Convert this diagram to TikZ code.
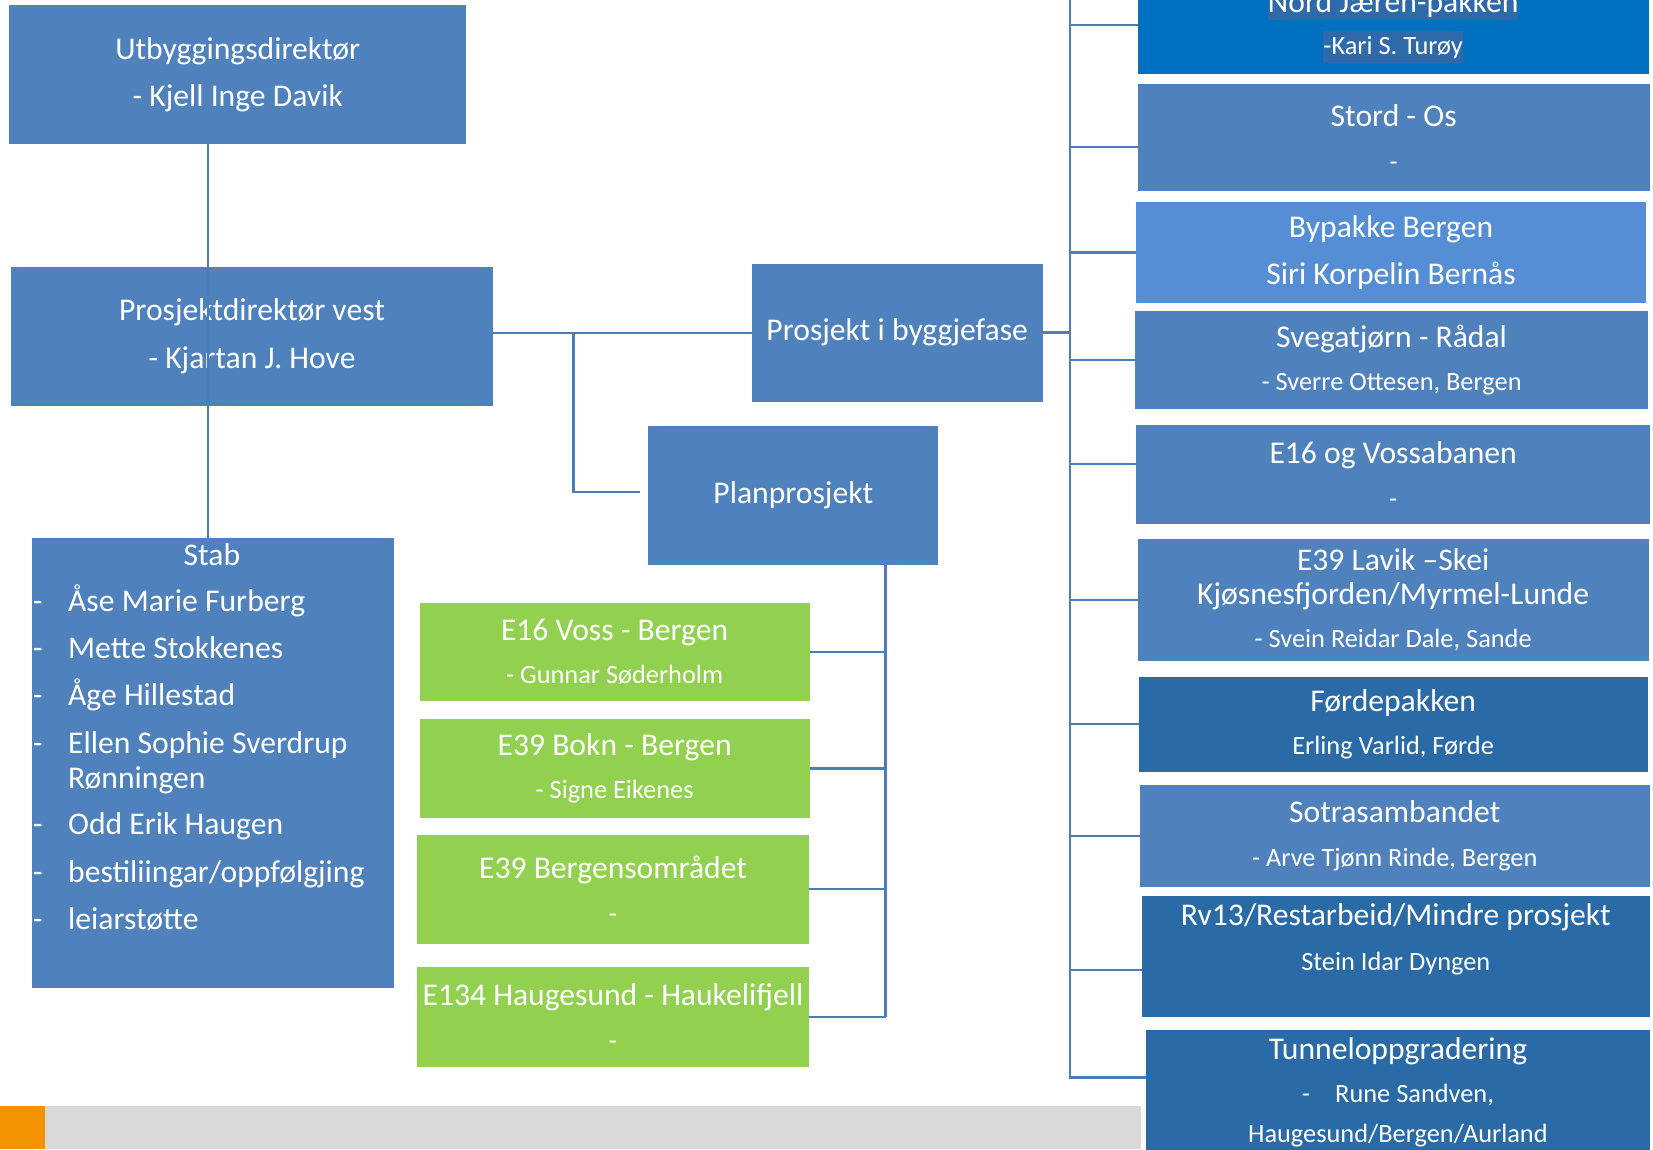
\documentclass[tikz,border=0pt]{standalone}
\usepackage{fontspec}
\setmainfont{Carlito}
\definecolor{svvblaa}{HTML}{4F81BD}
\definecolor{lysblaa}{HTML}{558ED5}
\definecolor{morkblaa}{HTML}{2A6AA6}
\definecolor{klarblaa}{HTML}{0070C0}
\definecolor{merke}{HTML}{2E6AAA}
\definecolor{gronn}{HTML}{92D050}
\definecolor{graa}{HTML}{D9D9D9}
\definecolor{oransje}{HTML}{F29400}
\definecolor{strek}{HTML}{4A7EBB}
\newcommand{\undertekst}{\fontsize{25}{30}\selectfont}
\setlength{\fboxsep}{0pt}

\begin{document}
\begin{tikzpicture}[x=1pt,y=-1pt,
  boks/.style={fill=svvblaa, text=white, align=center, inner sep=0pt, outer sep=0pt,
    font=\fontsize{30}{45}\selectfont},
  liste/.style={text=white, anchor=base west, inner sep=0pt, font=\fontsize{30}{36}\selectfont},
  linje/.style={draw=strek, line width=2.2pt}]
  \useasboundingbox (0,0) rectangle (1568,1090);
  \clip (0,0) rectangle (1568,1090);

  % bunnlinje
  \fill[graa] (43,1049) rectangle (1082,1090);
  \fill[oransje] (0,1049) rectangle (43,1090);

  % leiing
  \node[boks, minimum width=433pt, minimum height=132pt] (utb) at (225.5,71)
    {Utbyggingsdirektør\\- Kjell Inge Davik};
  \node[boks, minimum width=458pt, minimum height=132pt] (pd) at (239,319)
    {Prosjektdirektør vest\\- Kjartan J. Hove};
  \node[boks, minimum width=344pt, minimum height=427pt] (stab) at (202,723.5) {};
  \node[liste, anchor=base] (stabtittel) at (201,536) {Stab};
  \foreach \strek/\y/\navn [count=\i] in {-/580/Åse Marie Furberg, -/625/Mette Stokkenes,
      -/669.5/Åge Hillestad, -/714.5/Ellen Sophie Sverdrup, {}/748/Rønningen,
      -/792/Odd Erik Haugen, -/837.5/{bestiliingar/oppfølgjing}, -/881.5/leiarstøtte}
    \node[liste] (stab-\i) at (31,\y) {\makebox[33.5pt][l]{\strek}\navn};

  \node[boks, minimum width=276pt, minimum height=131pt] (bygg) at (851,315.5)
    {Prosjekt i byggjefase};
  \node[boks, minimum width=275pt, minimum height=132pt] (plan) at (752.5,470)
    {Planprosjekt};

  % planprosjekt
  \node[boks, fill=gronn, minimum width=370pt, minimum height=93pt] (g1) at (583,618.5)
    {E16 Voss - Bergen\\[-4pt]{\undertekst - Gunnar Søderholm}};
  \node[boks, fill=gronn, minimum width=370pt, minimum height=94pt] (g2) at (583,729)
    {E39 Bokn - Bergen\\[-4pt]{\undertekst - Signe Eikenes}};
  \node[boks, fill=gronn, minimum width=371pt, minimum height=103pt] (g3) at (581.5,843.5)
    {E39 Bergensområdet\\[-3pt]{\undertekst -}};
  \node[boks, fill=gronn, minimum width=371pt, minimum height=95pt] (g4) at (581.5,964.5)
    {E134 Haugesund - Haukelifjell\\[-3pt]{\undertekst -}};

  % byggjefase
  \node[boks, fill=klarblaa, minimum width=485pt, minimum height=92.5pt] (nord) at (1321.5,23.75)
    {\colorbox{merke}{\rule[-7pt]{0pt}{31pt}Nord Jæren-pakken}\\[-5pt]
     {\undertekst\colorbox{merke}{\rule[-7.5pt]{0pt}{30.5pt}-Kari S. Turøy}}};
  \node[boks, minimum width=486pt, minimum height=101pt] (stord) at (1322,130.5)
    {Stord - Os\\[-3pt]{\undertekst -}};
  \node[boks, fill=lysblaa, minimum width=483pt, minimum height=95pt] (bypakke) at (1319.5,239.5)
    {Bypakke Bergen\\Siri Korpelin Bernås};
  \node[boks, minimum width=486pt, minimum height=93pt] (sveg) at (1320,341.5)
    {Svegatjørn - Rådal\\[-4pt]{\undertekst - Sverre Ottesen, Bergen}};
  \node[boks, minimum width=487pt, minimum height=94pt] (e16v) at (1321.5,450)
    {E16 og Vossabanen\\[-3pt]{\undertekst -}};
  \node[boks, minimum width=485pt, minimum height=116pt] (lavik) at (1321.5,569)
    {E39 Lavik –Skei\\[-13pt]Kjøsnesfjorden/Myrmel-Lunde\\[-4pt]{\undertekst - Svein Reidar Dale, Sande}};
  \node[boks, fill=morkblaa, minimum width=483pt, minimum height=90pt] (forde) at (1321.5,687)
    {Førdepakken\\[-4pt]{\undertekst Erling Varlid, Førde}};
  \node[boks, minimum width=484pt, minimum height=96pt] (sotra) at (1323,793)
    {Sotrasambandet\\[-3pt]{\undertekst - Arve Tjønn Rinde, Bergen}};
  \node[boks, fill=morkblaa, minimum width=482pt, minimum height=115pt] (rv13) at (1324,907.5)
    {Rv13/Restarbeid/Mindre prosjekt\\[-3pt]{\undertekst Stein Idar Dyngen}\\[-7.5pt]\mbox{}};
  \node[boks, fill=morkblaa, minimum width=478pt, minimum height=118pt] (tunnel) at (1326,1036)
    {Tunneloppgradering\\[-4pt]{\undertekst -\hspace{24pt}Rune Sandven,}\\[-7pt]{\undertekst Haugesund/Bergen/Aurland}};

  % strekar
  \coordinate (akse) at (197,0);
  \draw[linje] (utb.south -| akse) -- (stab.north -| akse);
  \coordinate (pdut) at ([yshift=3pt]pd.east);
  \draw[linje] (pdut) -- (pdut -| bygg.west);
  \coordinate (gren) at (pdut -| 544,0);
  \draw[linje, shorten >=8pt] (gren) |- ([yshift=3pt]plan.west);

  \coordinate (bustopp) at (1015,0);
  \coordinate (busbunn) at (1015,1022);
  \draw[linje] (bygg.east) -- (bygg.east -| bustopp);
  \draw[linje] (bustopp) -- (busbunn) -- (tunnel.west |- busbunn);
  \foreach \b/\dy in {nord/0, stord/-9, bypakke/0, sveg/0, e16v/10, lavik/0, forde/0, sotra/0, rv13/-12.5}
    \draw[linje] ([yshift=\dy pt]\b.west) -- ([yshift=\dy pt]\b.west -| bustopp);

  \coordinate (planbus) at ([xshift=87.5pt]plan.south);
  \draw[linje] (planbus) -- (planbus |- g4.east);
  \foreach \g in {g1,g2,g3,g4}
    \draw[linje] (\g.east) -- (\g.east -| planbus);
\end{tikzpicture}
\end{document}
